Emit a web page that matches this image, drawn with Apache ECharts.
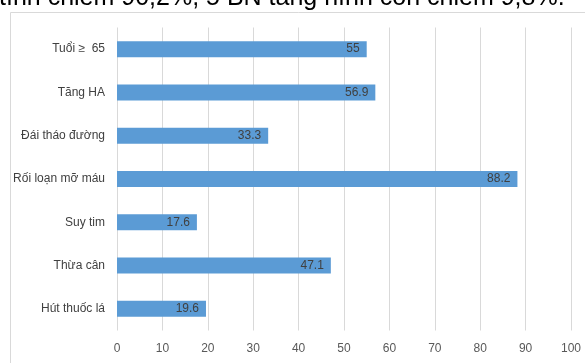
<!DOCTYPE html>
<html><head><meta charset="utf-8">
<script src="https://cdn.jsdelivr.net/npm/echarts@6/dist/echarts.min.js"></script>
<style>html,body{margin:0;padding:0;background:#fff}#c{width:585px;height:363px}</style>
</head><body><div id="c"></div>
<script>
const categories = ['Tuổi ≥  65', 'Tăng HA', 'Đái tháo đường', 'Rối loạn mỡ máu', 'Suy tim', 'Thừa cân', 'Hút thuốc lá'];
const values = [55, 56.9, 33.3, 88.2, 17.6, 47.1, 19.6];
const headingText = 'tình chiếm 90,2%, 5 BN tăng hình còn chiếm 9,8%.';

const font = "'Liberation Sans', Arial, sans-serif";
const chart = echarts.init(document.getElementById('c'), null, {renderer: 'canvas'});
chart.setOption({
  animation: false,
  grid: {left: 117, right: 14, top: 27.5, bottom: 32.5, containLabel: false},
  graphic: [
    {type: 'rect', left: 8, top: 10, shape: {x: 0, y: 0, width: 640, height: 420},
     style: {fill: 'none', stroke: '#d9d9d9', lineWidth: 1}, silent: true, z: -1},
    {type: 'text', left: -1, top: -14.5, style: {text: headingText, fill: '#000', font: "25px 'Liberation Sans', Arial, sans-serif"}}
  ],
  xAxis: {
    type: 'value', min: 0, max: 100, interval: 10,
    axisLine: {show: false}, axisTick: {show: false},
    splitLine: {lineStyle: {color: '#d9d9d9', width: 1}},
    axisLabel: {color: '#595959', fontSize: 12, fontFamily: font, margin: 12}
  },
  yAxis: {
    type: 'category', data: categories, inverse: true,
    axisLine: {show: false}, axisTick: {show: false},
    axisLabel: {color: '#404040', fontSize: 12, fontFamily: font, margin: 12}
  },
  series: [{
    type: 'bar', data: values, barCategoryGap: '63%',
    itemStyle: {color: '#5B9BD5'},
    label: {show: true, position: 'insideRight', distance: 7, color: '#404040', fontSize: 12, fontFamily: font}
  }]
});
</script></body></html>
